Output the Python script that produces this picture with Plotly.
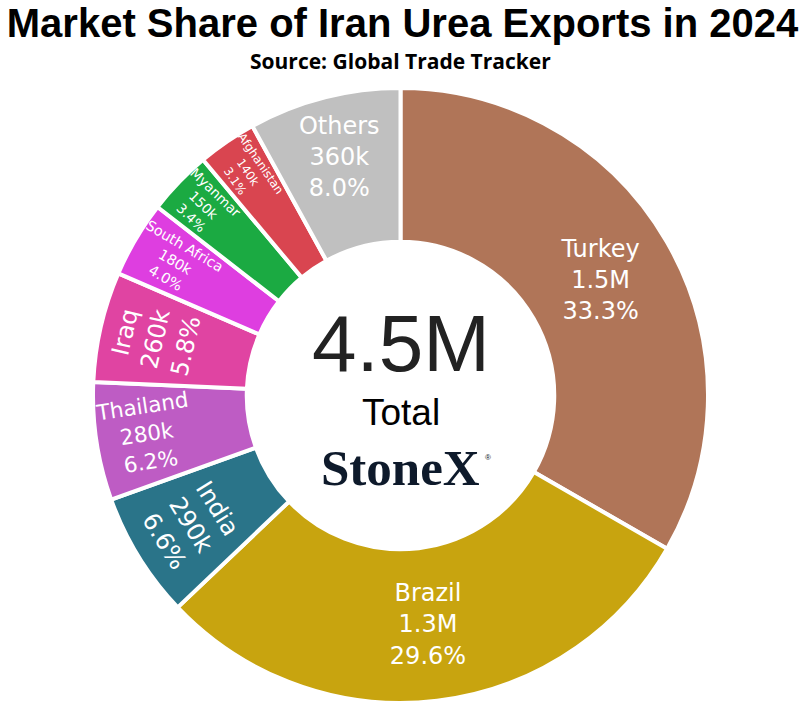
import plotly.graph_objects as go

countries = ["Turkey", "Brazil", "India", "Thailand", "Iraq", "South Africa",
             "Myanmar", "Afghanistan", "Others"]
share_pct = [33.3, 29.6, 6.6, 6.2, 5.8, 4.0, 3.4, 3.1, 8.0]
value_labels = ["1.5M", "1.3M", "290k", "280k", "260k", "180k", "150k", "140k", "360k"]
total_label = "4.5M"
colors = ["#B07558", "#C8A40F", "#2A7489", "#BE5CC4", "#E044A2", "#DE3EE0",
          "#1BAA42", "#D94550", "#C0C0C0"]

fig = go.Figure(go.Pie(
    labels=countries,
    values=share_pct,
    text=value_labels,
    texttemplate="%{label}<br>%{text}<br>%{percent:.1%}",
    textposition="inside",
    insidetextorientation="auto",
    textfont=dict(family="DejaVu Sans", size=24, color="white"),
    marker=dict(colors=colors, line=dict(color="white", width=4)),
    hole=0.5,
    sort=False,
    direction="clockwise",
    rotation=0,
    showlegend=False,
))

fig.update_layout(
    width=805, height=713,
    margin=dict(l=0, r=4, t=88, b=10),
    paper_bgcolor="white",
    title=dict(text="<b>Market Share of Iran Urea Exports in 2024</b>",
               x=0.5, xanchor="center", y=1 - 23 / 713, yanchor="middle",
               yref="container",
               font=dict(family="Liberation Sans", size=40, color="black")),
    annotations=[
        dict(text="<b>Source: Global Trade Tracker</b>", x=0.5, y=(703 - 61) / 615,
             xref="paper", yref="paper", yanchor="middle", showarrow=False,
             font=dict(family="Open Sans", size=21, color="black")),
        dict(text=total_label, x=0.5, y=(703 - 343) / 615, xref="paper", yref="paper",
             showarrow=False, font=dict(family="Liberation Sans", size=80, color="#222222")),
        dict(text="Total", x=0.5, y=(703 - 412) / 615, xref="paper", yref="paper",
             showarrow=False, font=dict(family="Liberation Sans", size=37, color="black")),
        dict(text="<b>StoneX</b>", x=0.5, y=(703 - 468) / 615,
             xref="paper", yref="paper", showarrow=False,
             font=dict(family="Liberation Serif", size=51, color="#0E1A2B")),
        dict(text="®", x=(488 - 0) / 801, y=(703 - 457) / 615,
             xref="paper", yref="paper", showarrow=False,
             font=dict(family="Liberation Sans", size=8, color="#0E1A2B")),
    ],
)

fig.write_html("out.html")
